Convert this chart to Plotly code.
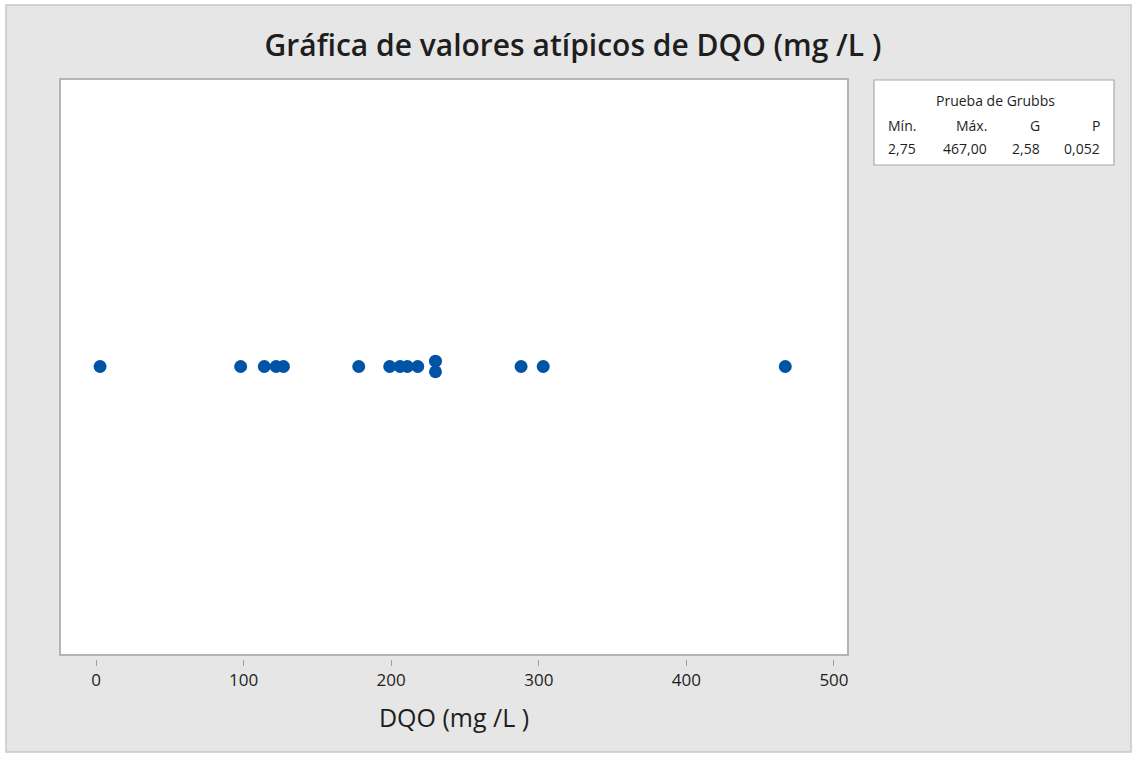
import plotly.graph_objects as go

# Data
dqo_values = [2.75, 98, 114, 122, 127, 178, 199, 206, 211, 218, 230, 230, 288, 303, 467]
stack_offset = [0, 0, 0, 0, 0, 0, 0, 0, 0, 0, 0.018, -0.018, 0, 0, 0]
x_ticks = [0, 100, 200, 300, 400, 500]
grubbs_headers = ["Mín.", "Máx.", "G", "P"]
grubbs_values = ["2,75", "467,00", "2,58", "0,052"]

W, H = 1137, 757
L, R, T, B = 60, 848, 78, 659  # plot area in px
pw, ph = R - L, B - T

def px(x):
    return (x - L) / pw

def py(y):
    return (B - y) / ph

FONT = "Open Sans"
TXT = "#1E1E1E"

fig = go.Figure()
fig.add_trace(go.Scatter(
    x=dqo_values, y=stack_offset, mode="markers",
    marker=dict(size=13, color="#0054A6", line=dict(width=0)),
    hoverinfo="x", showlegend=False,
))

shapes = [
    # outer gray panel with border
    dict(type="rect", xref="paper", yref="paper", layer="below",
         x0=px(6), x1=px(1131), y0=py(752), y1=py(5),
         fillcolor="#E6E6E6", line=dict(color="#C8C8C8", width=1.5)),
    # white plot frame
    dict(type="rect", xref="paper", yref="paper", layer="below",
         x0=px(60), x1=px(848), y0=py(655), y1=py(79),
         fillcolor="white", line=dict(color="#B4B4B4", width=2)),
    # Grubbs box
    dict(type="rect", xref="paper", yref="paper", layer="below",
         x0=px(874), x1=px(1114), y0=py(165), y1=py(80),
         fillcolor="white", line=dict(color="#AAAAAA", width=1.2)),
]

LEG = 14
annotations = [
    dict(text="Prueba de Grubbs", x=px(995), y=py(101), xref="paper", yref="paper",
         showarrow=False, xanchor="center", yanchor="middle",
         font=dict(family=FONT, size=LEG, color=TXT)),
]
col_right = [918, 989, 1042, 1102]
for h, v, cx in zip(grubbs_headers, grubbs_values, col_right):
    annotations.append(dict(text=h, x=px(cx), y=py(125), xref="paper", yref="paper",
                            showarrow=False, xanchor="right", yanchor="middle",
                            font=dict(family=FONT, size=LEG, color=TXT)))
    annotations.append(dict(text=v, x=px(cx), y=py(148), xref="paper", yref="paper",
                            showarrow=False, xanchor="right", yanchor="middle",
                            font=dict(family=FONT, size=LEG, color=TXT)))

fig.update_layout(
    width=W, height=H,
    margin=dict(l=L, r=W - R, t=T, b=H - B, pad=0),
    paper_bgcolor="white",
    plot_bgcolor="rgba(0,0,0,0)",
    title=dict(text="Gráfica de valores atípicos de DQO (mg /L )",
               x=573 / W, xanchor="center", y=1 - 45 / H, yanchor="middle",
               font=dict(family=FONT, size=30, color=TXT, weight=600)),
    xaxis=dict(range=[-24.4, 509.5], tickvals=x_ticks, ticks="outside", ticklen=6,
               tickcolor="#A0A0A0", tickwidth=1, showgrid=False, zeroline=False,
               showline=False, tickfont=dict(family=FONT, size=17, color=TXT),
               title=dict(text="DQO (mg /L )", standoff=19,
                          font=dict(family=FONT, size=25, color=TXT))),
    yaxis=dict(range=[-1, 1 - 2 * 4 / ph], visible=False),
    shapes=shapes,
    annotations=annotations,
)

fig.write_html("out.html")
